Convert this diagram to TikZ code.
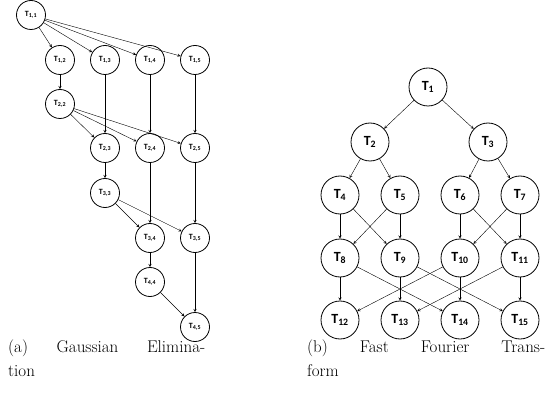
\documentclass[tikz,border=0pt]{standalone}
\usepackage{fontspec}
\newfontfamily\taskfont{Carlito}
\usetikzlibrary{arrows}
\tikzstyle{dep} = [->,>=stealth, thin]

\begin{document}
\begin{tikzpicture}[x=1pt, y=-1pt,
			gnode/.style={circle, draw, thick, minimum size=29pt, inner sep=0pt, font=\taskfont\bfseries\fontsize{8}{9}\selectfont},
			fnode/.style={circle, draw, thick, minimum size=38pt, inner sep=0pt, font=\taskfont\bfseries\fontsize{14}{15}\selectfont},
			subcap/.style={anchor=north west, align=left, inner sep=0pt, font=\fontsize{17}{24}\selectfont}
			]
			\useasboundingbox (0,0) rectangle (548,403);
			
			% gaussian elimination
			\node[gnode] (g11) at (31,15) {T\textsubscript{1,1}};
			\foreach \i/\j/\x/\y in {1/2/60/60, 1/3/105/60, 1/4/150/60, 1/5/195/60,
				2/2/60/104, 2/3/105/148, 2/4/150/148, 2/5/195/148,
				3/3/105/193, 3/4/150/238, 3/5/195/238, 4/4/150/282, 4/5/195/327}
				\node[gnode] (g\i\j) at (\x,\y) {T\textsubscript{\i,\j}};
			
			\foreach \a/\b in {11/12, 11/13, 11/14, 11/15, 12/22, 13/23, 14/24, 15/25,
				22/23, 22/24, 22/25, 23/33, 24/34, 25/35, 33/34, 33/35, 34/44, 35/45, 44/45}
				\draw[dep] (g\a) -- (g\b);
			
			\node[subcap] (capa) at (8,340) {\makebox[197pt][s]{(a) Gaussian Elimina-}\\tion};
			
			% fast fourier transform
			\foreach \n/\x/\y in {1/428/87, 2/370/142, 3/488/142,
				4/340/195, 5/400/195, 6/460/195, 7/520/195,
				8/340/258, 9/400/258, 10/460/258, 11/520/258,
				12/340/320, 13/400/320, 14/460/320, 15/520/320}
				\node[fnode] (f\n) at (\x,\y) {T\textsubscript{\n}};
			
			\foreach \a/\b in {1/2, 1/3, 2/4, 2/5, 3/6, 3/7, 4/8, 4/9, 5/8, 5/9,
				6/10, 6/11, 7/10, 7/11, 8/12, 8/14, 9/13, 9/15, 10/12, 10/14, 11/13, 11/15}
				\draw[dep] (f\a) -- (f\b);
			
			\node[subcap] (capb) at (307,340) {\makebox[238pt][s]{(b) Fast Fourier Trans-}\\form};
		\end{tikzpicture}
\end{document}
